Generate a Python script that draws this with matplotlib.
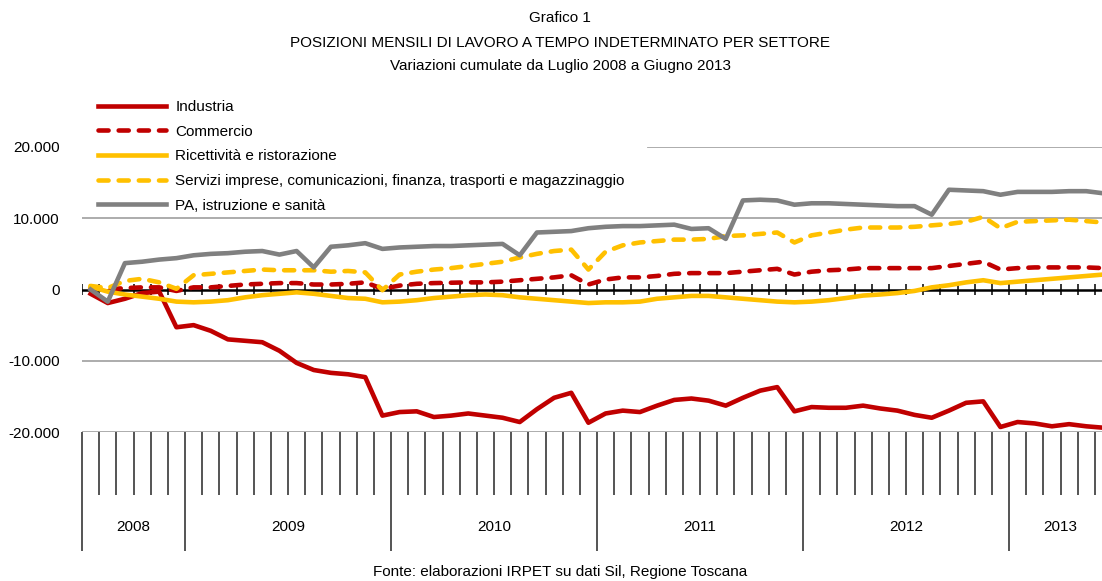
import numpy as np
import matplotlib
matplotlib.use("Agg")
import matplotlib.pyplot as plt
from matplotlib import font_manager

# font: narrow sans if present
nomi = {f.name for f in font_manager.fontManager.ttflist}
if "Liberation Sans Narrow" in nomi:
    plt.rcParams["font.family"] = ["Liberation Sans Narrow", "DejaVu Sans"]
    fs = 12.5
else:
    plt.rcParams["font.family"] = ["Liberation Sans", "DejaVu Sans"]
    fs = 11

# Luglio 2008 - Giugno 2013, variazioni cumulate
industria = [-600, -1900, -1300, -500, -300, -5300, -5000, -5800, -7000, -7200,
             -7400, -8600, -10300, -11300, -11700, -11900, -12300, -17700, -17200, -17100,
             -17900, -17700, -17400, -17700, -18000, -18600, -16800, -15200, -14500, -18700,
             -17400, -17000, -17200, -16300, -15500, -15300, -15600, -16300, -15200, -14200,
             -13700, -17100, -16500, -16600, -16600, -16300, -16700, -17000, -17600, -18000,
             -17000, -15900, -15700, -19300, -18600, -18800, -19200, -18900, -19200, -19400]
commercio = [200, 0, 200, 300, 300, -200, 300, 300, 500, 700,
             800, 900, 900, 700, 700, 800, 1000, 100, 550, 800,
             900, 950, 1000, 1000, 1100, 1300, 1500, 1700, 2000, 700,
             1400, 1700, 1700, 1900, 2200, 2300, 2300, 2300, 2500, 2700,
             2900, 2100, 2500, 2700, 2800, 3000, 3000, 3000, 3000, 3000,
             3300, 3600, 3900, 2800, 3000, 3100, 3100, 3100, 3100, 3000]
ricettivita = [400, -300, -700, -1000, -1300, -1700, -1800, -1700, -1500, -1100,
               -800, -600, -400, -600, -900, -1200, -1300, -1800, -1700, -1500,
               -1200, -1000, -800, -700, -800, -1100, -1300, -1500, -1700, -1900,
               -1800, -1800, -1700, -1300, -1100, -900, -900, -1100, -1300, -1500,
               -1700, -1800, -1700, -1500, -1200, -850, -700, -500, -200, 300,
               600, 1000, 1300, 900, 1100, 1300, 1500, 1700, 1900, 2100]
servizi = [500, 200, 1200, 1500, 1000, 100, 2000, 2200, 2400, 2600,
           2800, 2700, 2700, 2700, 2500, 2600, 2400, -100, 2100, 2500,
           2800, 3000, 3300, 3600, 3900, 4500, 5000, 5400, 5600, 2800,
           5300, 6200, 6600, 6800, 7000, 7000, 7100, 7500, 7600, 7800,
           8000, 6600, 7600, 8000, 8400, 8700, 8700, 8700, 8800, 9000,
           9200, 9500, 10200, 8600, 9500, 9600, 9700, 9800, 9600, 9400]
pa = [0, -1700, 3700, 3900, 4200, 4400, 4800, 5000, 5100, 5300,
      5400, 4900, 5400, 3100, 6000, 6200, 6500, 5700, 5900, 6000,
      6100, 6100, 6200, 6300, 6400, 4800, 8000, 8100, 8200, 8600,
      8800, 8900, 8900, 9000, 9100, 8500, 8600, 7100, 12500, 12600,
      12500, 11900, 12100, 12100, 12000, 11900, 11800, 11700, 11700, 10500,
      14000, 13900, 13800, 13300, 13700, 13700, 13700, 13800, 13800, 13500]

anni = ["2008", "2009", "2010", "2011", "2012", "2013"]
mesi_anno = [6, 12, 12, 12, 12, 6]
yticks = [-20000, -10000, 0, 10000, 20000]

W, H = 1102, 581
fig = plt.figure(figsize=(W / 100, H / 100), dpi=100)
# plot area in pixels: x 82 -> 1112 (60 months), y 147 (20.000) -> 432 (-20.000)
ax = fig.add_axes([82 / W, (H - 432) / H, 1030 / W, (432 - 147) / H])

x = np.arange(len(industria)) + 0.5
rosso, giallo, grigio = "#C00000", "#FFC000", "#808080"
lw = 3.3
ax.plot(x, industria, color=rosso, lw=lw, solid_joinstyle="round", label="Industria", zorder=3)
ax.plot(x, commercio, color=rosso, lw=lw, dashes=(2.2, 2.2), dash_capstyle="round",
        label="Commercio", zorder=3)
ax.plot(x, ricettivita, color=giallo, lw=lw, solid_joinstyle="round",
        label="Ricettività e ristorazione", zorder=3)
ax.plot(x, servizi, color=giallo, lw=lw, dashes=(2.2, 2.2), dash_capstyle="round",
        label="Servizi imprese, comunicazioni, finanza, trasporti e magazzinaggio", zorder=3)
ax.plot(x, pa, color=grigio, lw=lw, solid_joinstyle="round", label="PA, istruzione e sanità", zorder=3)

ax.set_xlim(0, 60)
ax.set_ylim(-20000, 20000)
for s in ax.spines.values():
    s.set_visible(False)

# griglia orizzontale (20.000 coperta dalla legenda a sinistra)
for v in [-20000, -10000, 10000]:
    ax.axhline(v, color="#A6A6A6", lw=1.3, zorder=1)
ax.axhline(20000, xmin=(648 - 82) / 1030, color="#A6A6A6", lw=1.3, zorder=1)
ax.axhline(0, color="black", lw=1.8, zorder=2)

confini = np.arange(0, 61)
ax.vlines(confini, -750, 750, color="black", lw=1.1, zorder=2)

ax.set_yticks(yticks)
ax.set_yticklabels([f"{v:,}".replace(",", ".") for v in yticks], fontsize=fs)
ax.tick_params(axis="y", length=0, pad=16)

# asse categorie: mesi e anni
inizio_anni = np.concatenate([[0], np.cumsum(mesi_anno)])
ax.set_xticks(inizio_anni)
ax.set_xticks(confini, minor=True)
ax.set_xticklabels([])
ax.tick_params(axis="x", which="major", length=86, width=1.1, color="#262626")
ax.tick_params(axis="x", which="minor", length=45, width=1.1, color="#262626")
for i, anno in enumerate(anni):
    centro = (inizio_anni[i] + inizio_anni[i + 1]) / 2
    ax.text(centro, -33300, anno, ha="center", va="center", fontsize=fs, clip_on=False)

leg = ax.legend(loc="upper left", bbox_to_anchor=(98 / W, 1 - 100 / H), bbox_transform=fig.transFigure,
                frameon=False, fontsize=fs, borderpad=0, borderaxespad=0,
                handlelength=4.45, handletextpad=0.6, labelspacing=0.7)

fig.text(560 / W, 1 - 18 / H, "Grafico 1", ha="center", va="center", fontsize=fs)
fig.text(560 / W, 1 - 43 / H, "POSIZIONI MENSILI DI LAVORO A TEMPO INDETERMINATO PER SETTORE",
         ha="center", va="center", fontsize=fs)
fig.text(560 / W, 1 - 66 / H, "Variazioni cumulate da Luglio 2008 a Giugno 2013",
         ha="center", va="center", fontsize=fs)
fig.text(560 / W, 1 - 572 / H, "Fonte: elaborazioni IRPET su dati Sil, Regione Toscana",
         ha="center", va="center", fontsize=fs)

fig.savefig("out.png", dpi=100)
